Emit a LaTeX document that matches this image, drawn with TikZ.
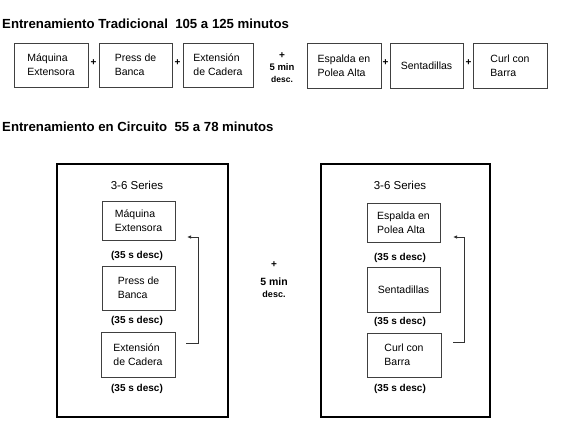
\documentclass[tikz,border=0pt]{standalone}
\usepackage{fontspec}
\setmainfont{Liberation Sans}
\usetikzlibrary{arrows.meta}
\begin{document}
\begin{tikzpicture}[x=1pt,y=-1pt,
  title/.style={anchor=base west,inner sep=0pt,font=\bfseries\fontsize{13.2}{15}\selectfont},
  exbox/.style={draw=black!75,line width=0.9pt,minimum width=73pt,minimum height=44pt,inner sep=2pt,align=left,font=\fontsize{10.5}{14}\selectfont},
  bigbox/.style={draw=black,line width=1.2pt},
  plus/.style={inner sep=0pt,font=\bfseries\fontsize{10}{10}\selectfont},
  rest/.style={inner sep=0pt,font=\bfseries\fontsize{9.5}{11}\selectfont},
  restsm/.style={inner sep=0pt,font=\bfseries\fontsize{8.5}{10}\selectfont},
  pausa/.style={inner sep=0pt,font=\bfseries\fontsize{10}{11}\selectfont},
  series/.style={inner sep=0pt,font=\fontsize{11.5}{13}\selectfont},
  loop/.style={draw=black!80,line width=0.8pt}
]
\useasboundingbox (0,0) rectangle (580,441);
\fill[white] (0,0) rectangle (580,441);

% Title 1
\node[title] (t1) at (2,28.3) {Entrenamiento Tradicional\ \ 105 a 125 minutos};

% Top row
\node[exbox,minimum width=74pt] (b1) at (51,65) {Máquina\\Extensora};
\node[exbox] (b2) at (135.5,65) {Press de\\Banca};
\node[exbox,minimum width=70pt] (b3) at (218,65) {Extensión\\de Cadera};
\node[exbox,minimum width=74pt,minimum height=45pt] (b4) at (344,65.5) {Espalda en\\Polea Alta};
\node[exbox,minimum height=45pt] (b5) at (426.5,65.5) {Sentadillas};
\node[exbox,minimum width=74pt,minimum height=45pt] (b6) at (510,65.5) {Curl con\\Barra};

\node[plus] (p1) at (93.5,63) {+};
\node[plus] (p2) at (177.5,63) {+};
\node[plus] (p4) at (385.5,63) {+};
\node[plus] (p5) at (468.5,63) {+};

\node[plus] (tp) at (282,56) {+};
\node[rest] (tm) at (282,67.5) {5 min};
\node[restsm] (td) at (282,79) {desc.};

% Title 2
\node[title] (t2) at (2,131) {Entrenamiento en Circuito\ \ 55 a 78 minutos};

% Circuit boxes
\draw[bigbox] (57,164) rectangle (228,417);
\draw[bigbox] (321,164) rectangle (490,417);

\node[series] (sL) at (137,185) {3-6 Series};
\node[series] (sR) at (400,185) {3-6 Series};

\node[exbox,minimum height=39pt] (LA) at (138.5,220.5) {Máquina\\Extensora};
\node[exbox] (LB) at (138.5,288) {Press de\\Banca};
\node[exbox,minimum width=74pt,minimum height=45pt] (LC) at (138,354.5) {Extensión\\de Cadera};

\node[pausa] (dLA) at (137,256) {(35 s desc)};
\node[pausa] (dLB) at (137,321) {(35 s desc)};
\node[pausa] (dLC) at (137,389) {(35 s desc)};

\node[exbox,minimum height=39pt] (RA) at (403.5,222.5) {Espalda en\\Polea Alta};
\node[exbox,minimum height=45pt] (RB) at (403.5,289.5) {Sentadillas};
\node[exbox,minimum width=74pt] (RC) at (404,355) {Curl con\\Barra};

\node[pausa] (dRA) at (400,258) {(35 s desc)};
\node[pausa] (dRB) at (400,322) {(35 s desc)};
\node[pausa] (dRC) at (400,389) {(35 s desc)};

% Loop arrows
\coordinate (Ls) at (186,343);
\coordinate (Le) at (187,237);
\draw[loop,-{Latex[length=4pt,width=3.5pt]}] (Ls) -- (198,343) -- (198,237) -- (Le);
\coordinate (Rs) at (453,342);
\coordinate (Re) at (453,237);
\draw[loop,-{Latex[length=4pt,width=3.5pt]}] (Rs) -- (464,342) -- (464,237) -- (Re);

% Middle rest
\node[plus] (mp) at (274,265) {+};
\node[rest,font=\bfseries\fontsize{10.5}{12}\selectfont] (mm) at (274,282) {5 min};
\node[restsm,font=\bfseries\fontsize{9}{10}\selectfont] (md) at (274,294) {desc.};
\end{tikzpicture}
\end{document}
